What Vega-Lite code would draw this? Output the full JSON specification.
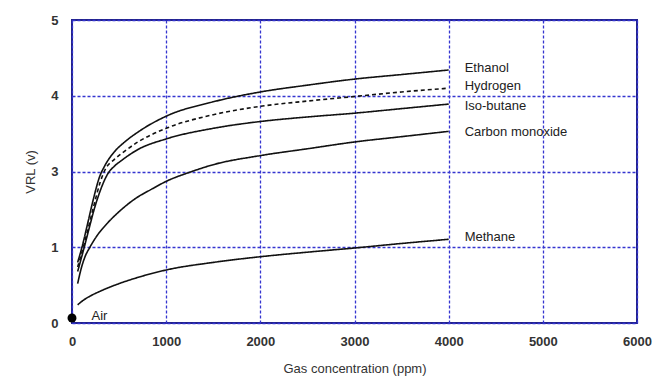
{
  "$schema": "https://vega.github.io/schema/vega-lite/v6.json",
  "width": 565,
  "height": 303,
  "autosize": {"type": "none"},
  "padding": {"left": 72, "top": 20, "right": 18, "bottom": 56},
  "background": "white",
  "config": {
    "view": {"stroke": "#22228a", "strokeWidth": 2},
    "font": "Liberation Sans",
    "axis": {
      "labelFont": "Liberation Sans",
      "titleFont": "Liberation Sans",
      "labelFontSize": 13,
      "titleFontSize": 13,
      "labelColor": "#333333",
      "titleColor": "#333333",
      "titleFontWeight": "normal",
      "labelFontWeight": "bold",
      "grid": true,
      "gridColor": "#3535d0",
      "gridDash": [3, 2],
      "gridWidth": 1.3,
      "gridOpacity": 1,
      "domain": false,
      "ticks": false
    }
  },
  "datasets": {
    "curves": [
      {"gas": "Ethanol", "ppm": 60, "vrl": 0.8},
      {"gas": "Ethanol", "ppm": 110, "vrl": 1.04},
      {"gas": "Ethanol", "ppm": 160, "vrl": 1.56},
      {"gas": "Ethanol", "ppm": 220, "vrl": 2.2},
      {"gas": "Ethanol", "ppm": 290, "vrl": 2.84},
      {"gas": "Ethanol", "ppm": 350, "vrl": 3.08},
      {"gas": "Ethanol", "ppm": 450, "vrl": 3.26},
      {"gas": "Ethanol", "ppm": 550, "vrl": 3.38},
      {"gas": "Ethanol", "ppm": 700, "vrl": 3.52},
      {"gas": "Ethanol", "ppm": 1000, "vrl": 3.73},
      {"gas": "Ethanol", "ppm": 1500, "vrl": 3.92},
      {"gas": "Ethanol", "ppm": 2000, "vrl": 4.05},
      {"gas": "Ethanol", "ppm": 2500, "vrl": 4.14},
      {"gas": "Ethanol", "ppm": 3000, "vrl": 4.22},
      {"gas": "Ethanol", "ppm": 3500, "vrl": 4.28},
      {"gas": "Ethanol", "ppm": 4000, "vrl": 4.34},
      {"gas": "Hydrogen", "ppm": 60, "vrl": 0.74},
      {"gas": "Hydrogen", "ppm": 120, "vrl": 1.0},
      {"gas": "Hydrogen", "ppm": 170, "vrl": 1.48},
      {"gas": "Hydrogen", "ppm": 230, "vrl": 2.08},
      {"gas": "Hydrogen", "ppm": 300, "vrl": 2.72},
      {"gas": "Hydrogen", "ppm": 350, "vrl": 3.02},
      {"gas": "Hydrogen", "ppm": 450, "vrl": 3.16},
      {"gas": "Hydrogen", "ppm": 550, "vrl": 3.26},
      {"gas": "Hydrogen", "ppm": 700, "vrl": 3.39},
      {"gas": "Hydrogen", "ppm": 1000, "vrl": 3.57},
      {"gas": "Hydrogen", "ppm": 1500, "vrl": 3.75},
      {"gas": "Hydrogen", "ppm": 2000, "vrl": 3.86},
      {"gas": "Hydrogen", "ppm": 2500, "vrl": 3.93},
      {"gas": "Hydrogen", "ppm": 3000, "vrl": 3.99},
      {"gas": "Hydrogen", "ppm": 3500, "vrl": 4.05},
      {"gas": "Hydrogen", "ppm": 4000, "vrl": 4.1},
      {"gas": "Iso-butane", "ppm": 60, "vrl": 0.68},
      {"gas": "Iso-butane", "ppm": 130, "vrl": 1.0},
      {"gas": "Iso-butane", "ppm": 180, "vrl": 1.48},
      {"gas": "Iso-butane", "ppm": 240, "vrl": 2.04},
      {"gas": "Iso-butane", "ppm": 310, "vrl": 2.56},
      {"gas": "Iso-butane", "ppm": 380, "vrl": 2.94},
      {"gas": "Iso-butane", "ppm": 450, "vrl": 3.07},
      {"gas": "Iso-butane", "ppm": 520, "vrl": 3.14},
      {"gas": "Iso-butane", "ppm": 700, "vrl": 3.29},
      {"gas": "Iso-butane", "ppm": 1000, "vrl": 3.43},
      {"gas": "Iso-butane", "ppm": 1500, "vrl": 3.57},
      {"gas": "Iso-butane", "ppm": 2000, "vrl": 3.66},
      {"gas": "Iso-butane", "ppm": 2500, "vrl": 3.72},
      {"gas": "Iso-butane", "ppm": 3000, "vrl": 3.77},
      {"gas": "Iso-butane", "ppm": 3500, "vrl": 3.83},
      {"gas": "Iso-butane", "ppm": 4000, "vrl": 3.89},
      {"gas": "Carbon monoxide", "ppm": 60, "vrl": 0.52},
      {"gas": "Carbon monoxide", "ppm": 100, "vrl": 0.73},
      {"gas": "Carbon monoxide", "ppm": 140, "vrl": 0.88},
      {"gas": "Carbon monoxide", "ppm": 190, "vrl": 1.0},
      {"gas": "Carbon monoxide", "ppm": 270, "vrl": 1.32},
      {"gas": "Carbon monoxide", "ppm": 370, "vrl": 1.62},
      {"gas": "Carbon monoxide", "ppm": 500, "vrl": 1.94},
      {"gas": "Carbon monoxide", "ppm": 670, "vrl": 2.28},
      {"gas": "Carbon monoxide", "ppm": 850, "vrl": 2.54},
      {"gas": "Carbon monoxide", "ppm": 1000, "vrl": 2.74},
      {"gas": "Carbon monoxide", "ppm": 1250, "vrl": 2.98},
      {"gas": "Carbon monoxide", "ppm": 1500, "vrl": 3.09},
      {"gas": "Carbon monoxide", "ppm": 2000, "vrl": 3.21},
      {"gas": "Carbon monoxide", "ppm": 2500, "vrl": 3.3},
      {"gas": "Carbon monoxide", "ppm": 3000, "vrl": 3.39},
      {"gas": "Carbon monoxide", "ppm": 3500, "vrl": 3.46},
      {"gas": "Carbon monoxide", "ppm": 4000, "vrl": 3.53},
      {"gas": "Methane", "ppm": 60, "vrl": 0.24},
      {"gas": "Methane", "ppm": 120, "vrl": 0.3},
      {"gas": "Methane", "ppm": 200, "vrl": 0.36},
      {"gas": "Methane", "ppm": 300, "vrl": 0.42},
      {"gas": "Methane", "ppm": 500, "vrl": 0.52},
      {"gas": "Methane", "ppm": 750, "vrl": 0.62},
      {"gas": "Methane", "ppm": 1000, "vrl": 0.7},
      {"gas": "Methane", "ppm": 1500, "vrl": 0.8},
      {"gas": "Methane", "ppm": 2000, "vrl": 0.875},
      {"gas": "Methane", "ppm": 2500, "vrl": 0.935},
      {"gas": "Methane", "ppm": 3000, "vrl": 0.99},
      {"gas": "Methane", "ppm": 3500, "vrl": 1.1},
      {"gas": "Methane", "ppm": 4000, "vrl": 1.21}
    ],
    "labels": [
      {"label": "Ethanol", "ppm": 4170, "vrl": 4.37},
      {"label": "Hydrogen", "ppm": 4170, "vrl": 4.13},
      {"label": "Iso-butane", "ppm": 4170, "vrl": 3.86},
      {"label": "Carbon monoxide", "ppm": 4170, "vrl": 3.52},
      {"label": "Methane", "ppm": 4170, "vrl": 1.27},
      {"label": "Air", "ppm": 207, "vrl": 0.09}
    ],
    "air": [
      {"gas": "Air", "ppm": 0, "vrl": 0.066}
    ]
  },
  "layer": [
    {
      "data": {"name": "curves"},
      "mark": {"type": "line", "color": "#111111", "strokeWidth": 1.6, "interpolate": "monotone"},
      "encoding": {
        "x": {
          "field": "ppm", "type": "quantitative",
          "scale": {"domain": [0, 6000], "nice": false},
          "axis": {"values": [0, 1000, 2000, 3000, 4000, 5000, 6000], "format": "d", "title": "Gas concentration (ppm)", "labelPadding": 12, "titlePadding": 14, "labelFlush": false}
        },
        "y": {
          "field": "vrl", "type": "quantitative",
          "scale": {"domain": [0, 1, 3, 4, 5], "range": [303, 227.25, 151.5, 75.75, 0], "nice": false, "zero": false},
          "axis": {"values": [0, 1, 3, 4, 5], "format": "d", "title": "VRL (v)", "labelPadding": 14, "titlePadding": 13, "labelFlush": false}
        },
        "detail": {"field": "gas"},
        "strokeDash": {
          "field": "gas", "type": "nominal",
          "scale": {"domain": ["Ethanol", "Hydrogen", "Iso-butane", "Carbon monoxide", "Methane"], "range": [[1, 0], [4, 3], [1, 0], [1, 0], [1, 0]]},
          "legend": null
        }
      }
    },
    {
      "data": {"name": "air"},
      "mark": {"type": "point", "filled": true, "color": "#000000", "size": 80, "opacity": 1, "clip": false},
      "encoding": {
        "x": {"field": "ppm", "type": "quantitative"},
        "y": {"field": "vrl", "type": "quantitative"}
      }
    },
    {
      "data": {"name": "labels"},
      "mark": {"type": "text", "align": "left", "baseline": "middle", "fontSize": 13, "color": "#222222", "font": "Liberation Sans"},
      "encoding": {
        "x": {"field": "ppm", "type": "quantitative"},
        "y": {"field": "vrl", "type": "quantitative"},
        "text": {"field": "label"}
      }
    }
  ]
}
